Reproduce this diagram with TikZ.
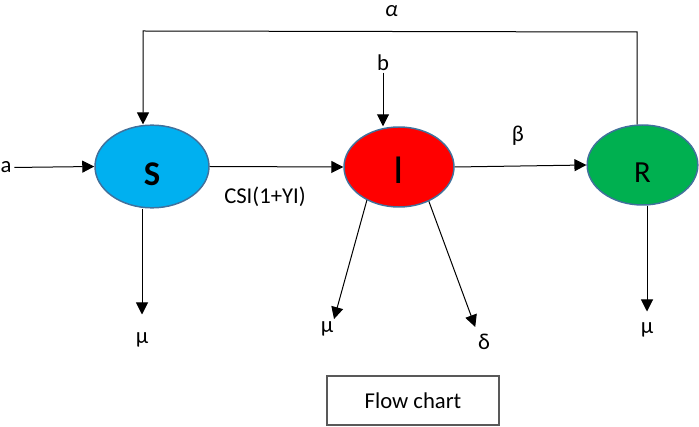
\documentclass[tikz,border=0pt]{standalone}
\usepackage{fontspec}
\setmainfont{Carlito}
\usepackage{xcolor}
\usetikzlibrary{shapes.geometric, arrows.meta}

\definecolor{sblue}{RGB}{0,176,240}
\definecolor{ired}{RGB}{255,0,0}
\definecolor{rgreen}{RGB}{0,176,80}
\definecolor{rim}{RGB}{65,113,156}

\newcommand{\sunk}[2]{\raisebox{-#1}[\height][\depth]{#2}}

\tikzset{
    compart/.style={draw=rim, ellipse, line width=1.1pt, inner sep=0pt,
        minimum width=82.5pt, minimum height=60pt},
    flow/.style={-{Triangle[length=9pt, width=9pt]}, line width=0.75pt},
    rate/.style={inner sep=0pt, font=\fontsize{17}{20}\selectfont},
}

\begin{document}
\begin{tikzpicture}[x=0.75pt, y=-0.75pt]
    \useasboundingbox (0, 0) rectangle (699, 427);

    % compartments
    \node[compart, fill=sblue, minimum width=85.5pt, minimum height=62pt,
        font=\fontsize{26}{30}\selectfont\bfseries] (S) at (152, 166.5) {\sunk{5.5pt}{S}};
    \node[compart, fill=ired, font=\fontsize{31}{36}\selectfont] (I) at (399, 167) {\sunk{2.6pt}{I}};
    \node[compart, fill=rgreen, minimum width=83pt,
        font=\fontsize{23}{28}\selectfont] (R) at (642.5, 165) {\sunk{6pt}{R}};

    % rates
    \node[rate] (a) at (6, 167.5) {a};
    \node[rate] (b) at (383, 62.5) {b};
    \node[rate] (alpha) at (391.5, 11) {\itshape α};
    \node[rate] (beta) at (518, 136) {β};
    \node[rate] (csi) at (265, 197) {CSI(1+ΥI)};
    \node[rate] (m1) at (142, 340) {μ};
    \node[rate] (m2) at (327, 328.5) {μ};
    \node[rate] (d) at (484, 342) {δ};
    \node[rate] (m3) at (647, 330) {μ};

    \node[draw=black!65, line width=1pt, minimum width=129pt, minimum height=36.75pt,
        font=\fontsize{17}{20}\selectfont] (chart) at (413, 400.5) {Flow chart};

    \coordinate (tl) at (143, 31);
    \coordinate (tr) at (637, 32);

    \draw[flow, shorten <=2pt] (a.east) -- (S.west);
    \draw[flow] (S.east) -- (I.west);
    \draw[flow] (I.east) -- (R.west);
    \draw[flow, shorten <=1.5pt] (b.south) -- (b.south |- I.north);
    \draw[flow] (tr |- R.north) -- (tr) -- (tl) -- (tl |- S.north);

    \draw[flow, shorten >=13.5pt] (S.south -| m1) -- (m1.north);
    \draw[flow, shorten >=1.5pt] (I.226) -- (m2.north east);
    \draw[flow, shorten >=5.6pt] (I.311) -- (d.north west);
    \draw[flow, shorten >=8.25pt] (R.south -| m3) -- (m3.north);
\end{tikzpicture}
\end{document}
